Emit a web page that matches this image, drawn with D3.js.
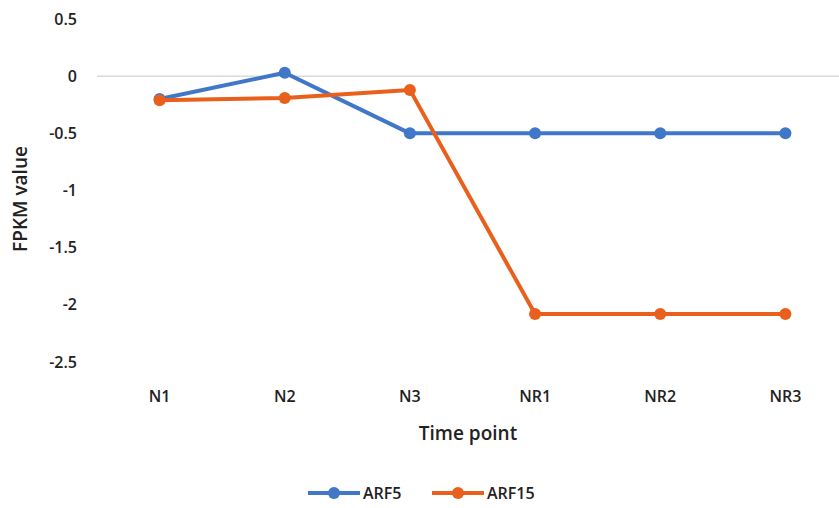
<!DOCTYPE html>
<html>
<head>
<meta charset="utf-8">
<script src="https://cdn.jsdelivr.net/npm/d3@7"></script>
<style>
  body { margin: 0; background: #fff; }
  text { font-family: "Open Sans", Lato, sans-serif; font-weight: 600; fill: #222; }
</style>
</head>
<body>
<script>
// Categories and series values
let categories = ["N1", "N2", "N3", "NR1", "NR2", "NR3"];
let arf5 = [-0.2, 0.03, -0.5, -0.5, -0.5, -0.5];
let arf15 = [-0.21, -0.19, -0.12, -2.08, -2.08, -2.08];
let yTicks = [0.5, 0, -0.5, -1, -1.5, -2, -2.5];
let seriesNames = ["ARF5", "ARF15"];
let seriesColors = ["#4077c9", "#e8601c"];

let W = 839, H = 508;
let margin = {top: 19, right: -9, bottom: 146, left: 97};
let width = W - margin.left - margin.right;
let height = H - margin.top - margin.bottom;

let svg = d3.select("body").append("svg")
    .attr("width", W)
    .attr("height", H);

let g = svg.append("g")
    .attr("transform", "translate(" + margin.left + "," + margin.top + ")");

// Set the ranges
let x = d3.scaleBand().domain(categories).range([0, width]);
let y = d3.scaleLinear().domain([-2.5, 0.5]).range([height, 0]);

// zero line
g.append("line")
    .attr("x1", 0).attr("x2", W - margin.left)
    .attr("y1", y(0)).attr("y2", y(0))
    .attr("stroke", "#dadada").attr("stroke-width", 1.5);

// y tick labels
g.selectAll(".ytick").data(yTicks).enter().append("text")
    .attr("x", -20)
    .attr("y", d => y(d))
    .attr("dy", "0.35em")
    .style("text-anchor", "end")
    .style("font-size", "16px")
    .text(d => d);

// x tick labels
g.selectAll(".xtick").data(categories).enter().append("text")
    .attr("x", d => x(d) + x.bandwidth() / 2)
    .attr("y", height + 34)
    .attr("dy", "0.35em")
    .style("text-anchor", "middle")
    .style("font-size", "16px")
    .text(d => d);

// axis titles
svg.append("text")
    .attr("x", 468).attr("y", 433)
    .attr("dy", "0.35em")
    .style("text-anchor", "middle")
    .style("font-size", "19px")
    .text("Time point");

svg.append("text")
    .attr("transform", "translate(20,199) rotate(-90)")
    .attr("dy", "0.35em")
    .style("text-anchor", "middle")
    .style("font-size", "19px")
    .text("FPKM value");

// lines
let valueline = d3.line()
    .x((d, i) => x(categories[i]) + x.bandwidth() / 2)
    .y(d => y(d));

[arf5, arf15].forEach(function(vals, k) {
  g.append("path")
      .attr("d", valueline(vals))
      .attr("fill", "none")
      .attr("stroke", seriesColors[k])
      .attr("stroke-width", 4)
      .attr("stroke-linejoin", "round");
  g.selectAll(".pt" + k).data(vals).enter().append("circle")
      .attr("cx", (d, i) => x(categories[i]) + x.bandwidth() / 2)
      .attr("cy", d => y(d))
      .attr("r", 6)
      .attr("fill", seriesColors[k]);
});

// legend
let legX = [308, 432];
seriesNames.forEach(function(name, k) {
  let lg = svg.append("g").attr("transform", "translate(" + legX[k] + ",493)");
  lg.append("line").attr("x1", 0).attr("x2", 52).attr("y1", 0).attr("y2", 0)
      .attr("stroke", seriesColors[k]).attr("stroke-width", 4);
  lg.append("circle").attr("cx", 26).attr("cy", 0).attr("r", 6).attr("fill", seriesColors[k]);
  lg.append("text").attr("x", 55).attr("y", 0).attr("dy", "0.35em")
      .style("font-size", "16px").text(name);
});
</script>
</body>
</html>
